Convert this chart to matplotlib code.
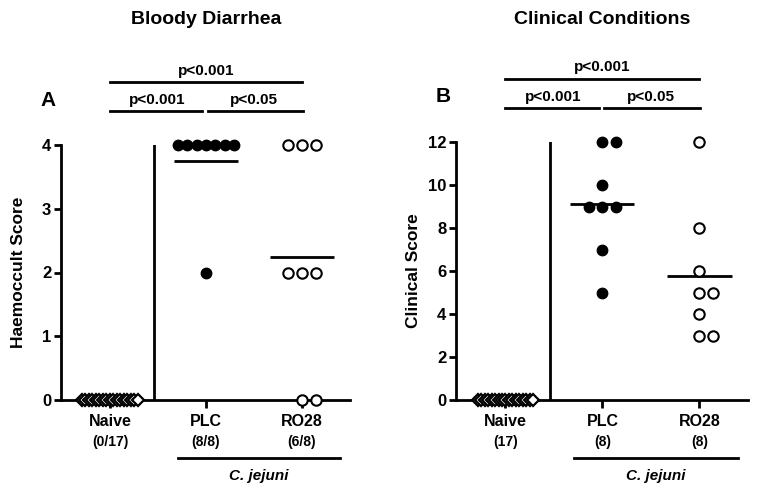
import numpy as np
import matplotlib.pyplot as plt
import matplotlib.transforms as mtransforms

plt.rcParams['font.family'] = ['Liberation Sans', 'DejaVu Sans']
plt.rcParams['font.weight'] = 'bold'

# data
groups = ['Naive', 'PLC', 'RO28']
counts_a = ['(0/17)', '(8/8)', '(6/8)']
counts_b = ['(17)', '(8)', '(8)']

naive_a = [0] * 17
plc_a = [4, 4, 4, 4, 4, 4, 4, 2]
ro28_a = [4, 4, 4, 2, 2, 2, 0, 0]

naive_b = [0] * 17
plc_b = [12, 12, 10, 9, 9, 9, 7, 5]
ro28_b = [12, 8, 6, 5, 5, 4, 3, 3]

pvals = ['p<0.001', 'p<0.001', 'p<0.05']

fig = plt.figure(figsize=(7.6, 4.95), dpi=100)
ax1 = fig.add_axes([61 / 760, 95 / 495, 289 / 760, 255 / 495])
ax2 = fig.add_axes([456 / 760, 95 / 495, 292 / 760, 258 / 495])


def spread(vals, px_per_unit):
    # GraphPad-like column scatter: 0, +1, -1, +2, -2 ...
    vals = np.array(vals, dtype=float)
    offs = np.zeros(len(vals))
    for v in np.unique(vals):
        idx = np.where(vals == v)[0]
        n = len(idx)
        if n == 1:
            continue
        step = min(14.0, 56.0 / (n - 1)) / px_per_unit
        order = [0]
        k = 1
        while len(order) < n:
            order.append(k)
            if len(order) < n:
                order.append(-k)
            k += 1
        if n % 2 == 1 or n > 4:
            order = sorted(order)
        offs[idx] = np.array(order) * step
    return offs


def panel(ax, data, ymax, yticks, ylabel, counts, title, letter, pxu, ypx):
    lw = 2.0
    for i, vals in enumerate(data):
        x = i + spread(vals, pxu)
        if i == 0:
            ax.plot(x, vals, 'D', ms=6, mfc='white', mec='black', mew=1.6, clip_on=False, zorder=4)
        elif i == 1:
            ax.plot(x, vals, 'o', ms=7.5, mfc='black', mec='black', clip_on=False, zorder=4)
            ax.plot([i - 0.33, i + 0.33], [np.mean(vals)] * 2, color='black', lw=lw, solid_capstyle='butt')
        else:
            ax.plot(x, vals, 'o', ms=7.5, mfc='white', mec='black', mew=1.5, clip_on=False, zorder=4)
            ax.plot([i - 0.33, i + 0.33], [np.mean(vals)] * 2, color='black', lw=lw, solid_capstyle='butt')
    ax.axvline(0.46, color='black', lw=lw)
    ax.set_xlim(-0.51, 2.5)
    ax.set_ylim(0, ymax)
    ax.set_yticks(yticks)
    ax.set_xticks([0, 1, 2])
    ax.set_xticklabels([])
    for s in ['top', 'right']:
        ax.spines[s].set_visible(False)
    for s in ['left', 'bottom']:
        ax.spines[s].set_linewidth(lw)
    ax.tick_params(axis='y', length=5, width=lw, labelsize=12, pad=2)
    ax.tick_params(axis='x', length=6, width=lw)
    ax.set_ylabel(ylabel, fontsize=12.5, fontweight='bold')
    w = ax.get_position().width * 760
    ax.yaxis.set_label_coords(-35 / w, 0.5)

    tr = mtransforms.blended_transform_factory(ax.transData, fig.transFigure)
    fy = lambda p: 1 - p / 495
    for i, g in enumerate(groups):
        ax.text(i, fy(422), g, transform=tr, ha='center', va='center', fontsize=11.5, fontweight='bold')
        ax.text(i, fy(442), counts[i], transform=tr, ha='center', va='center', fontsize=10, fontweight='bold')
    ax.plot([0.71, 2.40], [fy(458)] * 2, transform=tr, color='black', lw=lw, clip_on=False)
    ax.text(1.55, fy(476), 'C. jejuni', transform=tr, ha='center', va='center', fontsize=11,
            fontweight='bold', style='italic')
    ax.text(1, fy(20), title, transform=tr, ha='center', va='center', fontsize=14, fontweight='bold')

    top_bar, top_txt, low_bar, low_txt = ypx
    ax.plot([0, 2], [fy(top_bar)] * 2, transform=tr, color='black', lw=lw, clip_on=False)
    ax.plot([0, 0.96], [fy(low_bar)] * 2, transform=tr, color='black', lw=lw, clip_on=False)
    ax.plot([1.02, 2.01], [fy(low_bar)] * 2, transform=tr, color='black', lw=lw, clip_on=False)
    ax.text(1, fy(top_txt), pvals[0], transform=tr, ha='center', va='center', fontsize=11, fontweight='bold')
    ax.text(0.49, fy(low_txt), pvals[1], transform=tr, ha='center', va='center', fontsize=11, fontweight='bold')
    ax.text(1.5, fy(low_txt), pvals[2], transform=tr, ha='center', va='center', fontsize=11, fontweight='bold')
    ax.text(-0.64, fy(low_txt), letter, transform=tr, ha='center', va='center', fontsize=15, fontweight='bold')


panel(ax1, [naive_a, plc_a, ro28_a], 4, [0, 1, 2, 3, 4], 'Haemoccult Score', counts_a,
      'Bloody Diarrhea', 'A', 96.0, (82, 71, 111, 100))
panel(ax2, [naive_b, plc_b, ro28_b], 12, [0, 2, 4, 6, 8, 10, 12], 'Clinical Score', counts_b,
      'Clinical Conditions', 'B', 97.5, (79, 67, 108, 97))

fig.savefig('out.png', dpi=100)
